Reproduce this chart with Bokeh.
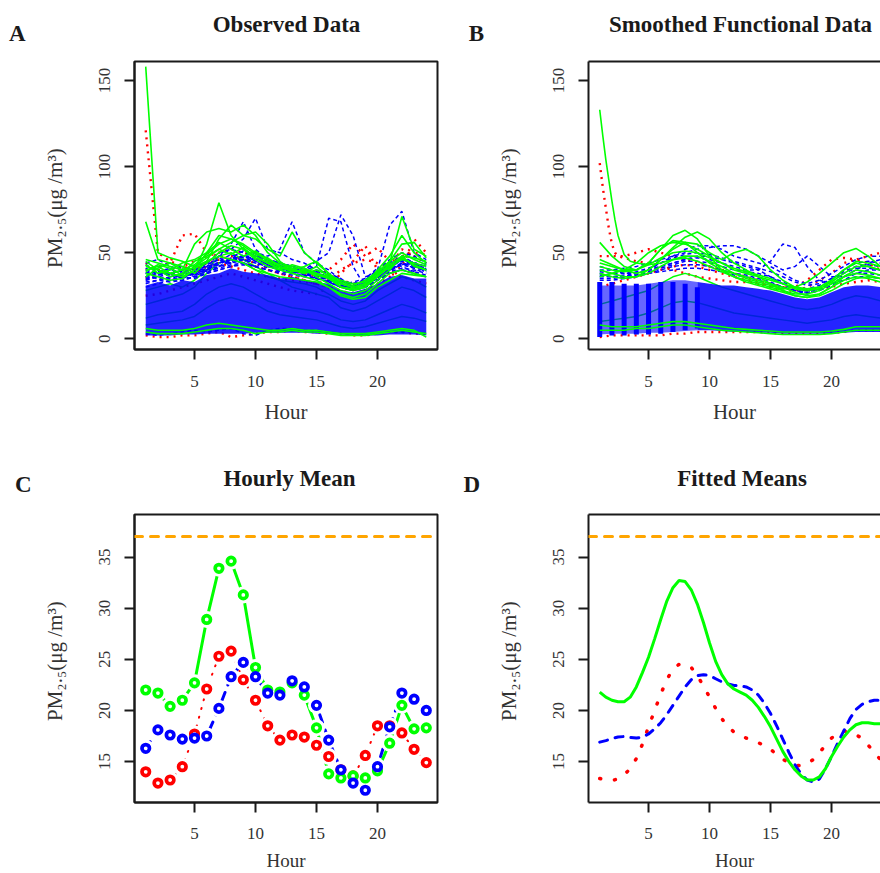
from bokeh.plotting import figure
from bokeh.models import Range1d, FixedTicker, Label, LinearAxis, Span
from bokeh.layouts import column, row
from bokeh.embed import file_html
from bokeh.resources import INLINE

# ---------------- data ----------------
hours = [1, 2, 3, 4, 5, 6, 7, 8, 9, 10, 11, 12, 13, 14, 15, 16, 17, 18, 19, 20, 21, 22, 23, 24]
fine_hours = [1, 1.5, 2, 2.5, 3, 3.5, 4, 4.5, 5, 5.5, 6, 6.5, 7, 7.5, 8, 8.5, 9, 9.5, 10, 10.5,
              11, 11.5, 12, 12.5, 13, 13.5, 14, 14.5, 15, 15.5, 16, 16.5, 17, 17.5, 18, 18.5,
              19, 19.5, 20, 20.5, 21, 21.5, 22, 22.5, 23, 23.5, 24]
spike_hours = [1, 1.25, 1.5, 1.75, 2, 2.25, 2.5, 3, 3.5, 4, 5, 6, 7, 8, 9, 10, 11, 12, 13, 14,
               15, 16, 17, 18, 19, 20, 21, 22, 23, 24]
early_hours = [1, 2, 3, 4, 5, 6, 7, 8, 9]
late_hours = [9, 10, 11, 12, 13, 14, 15, 16, 17, 18, 19, 20, 21, 22, 23, 24]

hour_ticks = [5, 10, 15, 20]
raw_ticks = [0, 50, 100, 150]
mean_ticks = [15, 20, 25, 30, 35]
standard_level = 37

# Panel A: observed hourly curves
obs_core_low = [2, 2, 2, 2.5, 2.5, 3, 3, 3, 3, 3.5, 3.5, 3.5, 3.5, 3.5, 3, 3, 2.5, 2, 2, 2, 2.5, 2.5, 2.5, 2]
obs_core_high = [31, 33, 31, 34, 33, 37, 38, 41, 39, 38, 37, 35, 36, 34, 33, 32, 28, 27, 29, 32, 36, 37, 35, 35]

obs_red = [
    [121, 50, 45, 42, 40, 44, 46, 48, 46, 44, 40, 38, 36, 34, 32, 30, 28, 26, 28, 32, 36, 40, 38, 36],
    [40, 42, 44, 60, 61, 50, 48, 46, 44, 42, 40, 38, 36, 34, 32, 30, 38, 45, 54, 40, 38, 42, 58, 50],
    [35, 38, 40, 42, 45, 48, 50, 52, 50, 48, 45, 42, 40, 38, 36, 40, 46, 55, 48, 53, 45, 48, 50, 49],
    [2, 1, 1, 2, 2, 3, 4, 1, 2, 3, 4, 4, 5, 4, 4, 3, 3, 2, 2, 3, 4, 4, 3, 3],
    [25, 26, 28, 30, 32, 34, 36, 38, 36, 34, 32, 30, 28, 27, 26, 30, 34, 32, 30, 40, 38, 36, 34, 32],
    [44, 40, 38, 36, 38, 42, 44, 42, 40, 38, 36, 35, 34, 33, 32, 34, 40, 44, 46, 44, 42, 52, 48, 44],
]
obs_green_mid = [
    [28, 30, 32, 30, 34, 40, 48, 50, 46, 42, 38, 34, 33, 32, 30, 26, 22, 20, 22, 28, 32, 36, 34, 30],
    [20, 22, 24, 26, 30, 38, 44, 46, 44, 40, 36, 34, 30, 28, 26, 24, 18, 16, 18, 22, 26, 30, 28, 24],
    [12, 14, 15, 16, 20, 26, 30, 32, 30, 26, 22, 20, 18, 17, 16, 14, 11, 10, 11, 14, 17, 20, 18, 15],
    [8, 9, 10, 11, 13, 18, 22, 24, 22, 20, 16, 14, 13, 12, 11, 9, 7, 6, 7, 9, 11, 13, 12, 10],
]
obs_blue = [
    [30, 32, 34, 36, 38, 42, 48, 55, 68, 52, 46, 44, 42, 40, 38, 36, 30, 28, 30, 34, 38, 40, 38, 36],
    [34, 36, 38, 40, 42, 44, 48, 52, 58, 70, 52, 50, 46, 44, 40, 38, 32, 30, 32, 38, 42, 46, 42, 40],
    [36, 35, 34, 36, 38, 40, 44, 46, 48, 50, 48, 52, 68, 50, 44, 40, 34, 30, 32, 36, 40, 44, 42, 40],
    [38, 36, 34, 34, 36, 38, 40, 42, 44, 46, 44, 42, 40, 40, 42, 70, 68, 42, 30, 34, 40, 44, 42, 40],
    [32, 34, 36, 38, 38, 40, 42, 44, 46, 48, 46, 44, 42, 40, 45, 50, 72, 60, 36, 38, 44, 48, 44, 42],
    [36, 38, 38, 40, 40, 42, 44, 46, 48, 46, 44, 42, 40, 40, 38, 36, 32, 30, 34, 40, 66, 74, 50, 46],
    [44, 46, 42, 40, 38, 44, 50, 52, 50, 48, 46, 44, 42, 40, 38, 36, 34, 32, 34, 40, 46, 50, 48, 44],
    [3, 2, 3, 4, 5, 4, 5, 6, 3, 2, 5, 6, 6, 5, 5, 4, 3, 3, 2, 3, 4, 4, 4, 3],
    [40, 38, 37, 36, 35, 38, 42, 45, 46, 44, 42, 40, 39, 38, 36, 34, 31, 30, 32, 37, 41, 43, 41, 40],
    [35, 36, 35, 37, 39, 41, 44, 47, 47, 45, 43, 41, 40, 39, 37, 35, 31, 29, 31, 35, 39, 41, 40, 38],
    [38, 39, 40, 38, 37, 39, 41, 43, 44, 42, 40, 38, 37, 36, 35, 33, 30, 31, 33, 38, 42, 45, 43, 41],
    [33, 34, 33, 34, 36, 38, 40, 42, 43, 42, 40, 39, 38, 37, 35, 33, 30, 28, 30, 34, 38, 40, 39, 37],
    [41, 37, 39, 35, 38, 43, 46, 44, 49, 45, 41, 44, 40, 37, 39, 35, 32, 29, 33, 38, 43, 47, 42, 44],
    [36, 40, 36, 38, 41, 39, 45, 49, 45, 47, 43, 39, 42, 38, 35, 37, 33, 31, 30, 36, 40, 43, 45, 39],
    [43, 39, 41, 42, 37, 41, 43, 47, 51, 48, 44, 42, 38, 41, 37, 34, 31, 33, 35, 41, 39, 44, 41, 43],
    [38, 42, 38, 35, 40, 45, 42, 46, 44, 42, 46, 40, 41, 39, 36, 38, 35, 30, 32, 35, 44, 42, 39, 41],
    [34, 37, 40, 39, 36, 40, 47, 44, 46, 50, 42, 43, 39, 36, 40, 33, 30, 32, 34, 39, 41, 46, 44, 38],
]
obs_green = [
    [158, 50, 47, 45, 42, 45, 48, 46, 44, 40, 38, 36, 35, 34, 33, 30, 25, 23, 24, 30, 34, 38, 37, 36],
    [40, 42, 38, 36, 40, 55, 79, 60, 52, 46, 42, 40, 38, 36, 34, 30, 26, 24, 26, 32, 38, 40, 38, 36],
    [45, 40, 38, 40, 55, 62, 64, 62, 66, 60, 50, 44, 42, 40, 36, 32, 28, 26, 28, 34, 40, 48, 42, 40],
    [68, 46, 44, 42, 38, 45, 58, 66, 60, 58, 52, 48, 62, 50, 44, 38, 30, 28, 30, 36, 44, 71, 52, 48],
    [38, 36, 34, 35, 40, 50, 60, 58, 55, 50, 45, 42, 40, 38, 42, 36, 30, 28, 30, 38, 45, 55, 56, 47],
    [42, 40, 36, 38, 45, 48, 52, 56, 60, 62, 55, 45, 40, 42, 45, 38, 32, 30, 32, 40, 48, 60, 50, 44],
    [46, 44, 42, 40, 41, 44, 50, 54, 52, 48, 44, 41, 40, 39, 38, 35, 30, 29, 31, 36, 42, 46, 44, 42],
    [39, 43, 41, 37, 42, 47, 52, 49, 53, 47, 44, 40, 43, 41, 38, 36, 33, 31, 34, 39, 45, 50, 46, 43],
    [43, 38, 40, 44, 46, 50, 56, 52, 48, 51, 46, 43, 41, 38, 40, 37, 34, 32, 33, 37, 43, 48, 47, 45],
    [36, 41, 44, 40, 43, 49, 55, 58, 54, 49, 47, 42, 39, 40, 37, 35, 32, 30, 32, 38, 41, 47, 43, 40],
    [4, 3, 3, 3, 4, 5, 6, 6, 5, 3, 4, 4, 5, 4, 4, 3, 2, 2, 2, 3, 4, 5, 4, 3],
    [6, 5, 5, 5, 6, 8, 9, 8, 7, 6, 5, 5, 6, 5, 5, 4, 3, 3, 3, 4, 5, 6, 5, 1],
]

# Panel B: smoothed functional curves
early_low = [2.5, 3, 3, 3, 3.5, 3.5, 4, 4.5, 5]
early_high = [31, 31, 31, 31, 32, 33, 34, 34, 33]
late_low = [5, 5, 4.5, 4, 4, 3.5, 3.5, 3, 3, 3, 3, 3, 3.5, 4, 4, 4]
late_high = [33, 32, 31, 31, 30, 29, 28, 26, 24, 23, 24, 27, 30, 31, 31, 30]
stripe_low = [1, 2, 2, 2.5, 2.5, 3, 4, 5, 6]
stripe_high = [33, 33, 32, 32, 32, 33, 33, 32, 30]

smooth_green_spike = [133, 118, 104, 92, 80, 69, 60, 49, 45, 44, 43, 44, 46, 47, 45, 42, 39, 36, 33, 31,
                      29, 27, 25, 24, 25, 28, 32, 35, 36, 35]
smooth_red_spike = [102, 88, 76, 64, 55, 50, 48, 47, 46, 45, 44, 42, 40, 38, 36, 35, 34, 33, 33, 32,
                    31, 30, 29, 28, 29, 30, 32, 33, 34, 33]
smooth_red = [
    [48, 48, 48, 50, 52, 50, 48, 46, 44, 42, 40, 38, 36, 34, 32, 30, 30, 34, 40, 46, 47, 46, 48, 50],
    [1, 2, 2, 2, 2, 2, 3, 3, 4, 4, 4, 4, 4, 4, 3.5, 3, 3, 3, 3, 3.5, 4, 5, 5, 5],
    [30, 32, 34, 36, 38, 40, 42, 43, 42, 40, 38, 36, 34, 32, 30, 28, 28, 30, 34, 38, 44, 46, 44, 40],
]
smooth_green_mid = [
    [20, 22, 24, 26, 28, 32, 36, 38, 36, 33, 30, 28, 26, 24, 22, 20, 18, 17, 18, 20, 23, 25, 24, 22],
    [10, 11, 12, 13, 15, 18, 21, 22, 21, 19, 17, 15, 14, 13, 12, 11, 10, 9, 10, 11, 13, 14, 13, 12],
]
smooth_blue = [
    [36, 36, 37, 38, 40, 42, 44, 46, 47, 46, 44, 42, 40, 40, 45, 55, 53, 42, 34, 32, 34, 38, 40, 40],
    [40, 40, 41, 42, 44, 46, 48, 50, 52, 53, 54, 54, 52, 48, 44, 40, 42, 48, 42, 36, 36, 40, 44, 46],
    [38, 36, 36, 38, 40, 44, 48, 52, 54, 54, 52, 48, 46, 44, 42, 38, 34, 32, 34, 38, 42, 46, 48, 48],
    [42, 40, 38, 38, 40, 42, 44, 46, 48, 48, 46, 44, 42, 40, 36, 32, 28, 26, 28, 34, 40, 44, 45, 44],
    [34, 34, 35, 36, 38, 40, 42, 43, 43, 42, 40, 38, 37, 35, 33, 30, 28, 27, 29, 32, 36, 38, 38, 37],
    [37, 36, 36, 37, 39, 41, 43, 45, 45, 44, 42, 40, 39, 38, 36, 33, 30, 29, 31, 35, 38, 41, 41, 40],
    [39, 38, 38, 39, 41, 44, 47, 49, 50, 49, 47, 45, 43, 41, 39, 36, 33, 31, 32, 35, 39, 42, 43, 42],
    [35, 35, 36, 37, 38, 39, 40, 41, 41, 40, 39, 37, 36, 34, 32, 30, 28, 27, 28, 31, 34, 36, 36, 35],
]
smooth_green = [
    [44, 42, 40, 40, 44, 52, 60, 63, 58, 48, 40, 36, 34, 32, 30, 28, 25, 24, 26, 30, 34, 36, 35, 33],
    [46, 43, 40, 38, 40, 46, 53, 59, 62, 58, 50, 44, 40, 36, 32, 28, 26, 26, 28, 32, 36, 38, 37, 35],
    [56, 48, 42, 40, 44, 52, 57, 56, 50, 44, 40, 38, 36, 34, 32, 30, 27, 25, 26, 30, 36, 40, 39, 37],
    [40, 38, 36, 36, 40, 46, 52, 56, 55, 50, 46, 50, 52, 48, 40, 34, 30, 28, 30, 34, 40, 44, 42, 40],
    [38, 36, 35, 36, 38, 42, 46, 48, 48, 45, 42, 38, 35, 33, 31, 29, 30, 33, 38, 44, 50, 52.5, 48, 42],
    [36, 38, 40, 44, 50, 54, 56, 55, 52, 48, 44, 40, 38, 36, 34, 32, 30, 29, 30, 34, 40, 45, 44, 42],
    [42, 40, 39, 40, 43, 47, 50, 51, 50, 47, 44, 41, 39, 37, 35, 32, 29, 28, 29, 33, 38, 42, 42, 40],
    [5, 5, 5, 6, 6, 7, 8, 8, 7, 6, 5, 4.5, 4, 3.5, 3, 2.5, 2.5, 2.5, 2.5, 3, 4, 5, 5, 5],
    [8, 7, 7, 7, 8, 9, 10, 10, 9, 8, 7, 6, 5.5, 5, 4.5, 4, 4, 4, 4, 4.5, 5.5, 7, 7, 7],
]

# Panel C: hourly means
mean_red = [14.0, 12.9, 13.2, 14.5, 17.7, 22.1, 25.3, 25.8, 23.0, 21.0, 18.5, 17.1, 17.6, 17.4, 16.6, 15.5,
            14.2, 13.6, 15.6, 18.5, 18.5, 17.8, 16.2, 14.9]
mean_green = [22.0, 21.7, 20.4, 21.0, 22.7, 28.9, 33.9, 34.6, 31.3, 24.2, 22.0, 21.8, 22.7, 21.5, 18.3, 13.8,
              13.4, 13.6, 13.4, 14.1, 16.8, 20.5, 18.2, 18.3]
mean_blue = [16.3, 18.1, 17.6, 17.2, 17.3, 17.5, 20.2, 23.3, 24.7, 23.3, 21.7, 21.5, 22.9, 22.3, 20.5, 17.1,
             14.2, 12.9, 12.2, 14.5, 18.4, 21.7, 21.1, 20.0]

# Panel D: fitted means (smooth)
fit_green = [21.8, 21.3, 21.0, 20.85, 20.85, 21.3, 22.3, 23.7, 25.2, 27.0, 28.9, 30.7, 32.0, 32.7, 32.6, 31.8,
             30.4, 28.6, 26.6, 24.8, 23.5, 22.6, 22.1, 21.8, 21.5, 21.0, 20.3, 19.4, 18.4, 17.2, 16.0, 15.0,
             14.2, 13.6, 13.2, 13.2, 13.5, 14.3, 15.5, 16.5, 17.4, 18.1, 18.6, 18.8, 18.8, 18.7, 18.7]
fit_blue = [16.9, 17.05, 17.25, 17.4, 17.45, 17.35, 17.3, 17.4, 17.7, 18.2, 18.8, 19.6, 20.5, 21.4, 22.3, 23.0,
            23.4, 23.5, 23.4, 23.1, 22.8, 22.6, 22.45, 22.4, 22.3, 22.0, 21.5, 20.7, 19.7, 18.5, 17.2, 15.9,
            14.7, 13.8, 13.2, 13.0, 13.3, 14.3, 15.5, 16.8, 18.0, 19.2, 20.1, 20.6, 20.85, 21.0, 21.0]
fit_red = [13.35, 13.2, 13.15, 13.3, 13.7, 14.3, 15.3, 16.7, 18.4, 20.0, 21.6, 23.0, 24.1, 24.5, 24.5, 24.2,
           23.4, 22.4, 21.3, 20.2, 19.2, 18.4, 17.9, 17.6, 17.3, 17.1, 16.85, 16.55, 16.2, 15.7, 15.25, 14.85,
           14.65, 14.6, 14.8, 15.2, 15.85, 16.6, 17.3, 17.8, 18.0, 17.9, 17.6, 17.3, 16.6, 15.9, 15.2]

# headings: (text, x, y) in header pixel space
row1_heads = [("A", 16.7, 22.5), ("Observed Data", 286, 31), ("B", 476, 21.7),
              ("Smoothed Functional Data", 740, 31.5)]
row2_heads = [("C", 22.8, 23.8), ("Hourly Mean", 289, 30), ("D", 471.3, 23.8), ("Fitted Means", 741.5, 30)]

# ---------------- styling ----------------
RED = "#FF0000"
GREEN = "#00FF00"
BLUE = "#0000FF"
ORANGE = "#FFA500"
INK = "#1a1a1a"
FONT = "Liberation Serif"
YLAB = "PM\u2082.\u2085(\u03bcg  /m\u00b3)"


def make_header(height, heads):
    h = figure(width=880, height=height, output_backend="svg", toolbar_location=None,
               x_range=Range1d(0, 880), y_range=Range1d(0, height), min_border=0,
               x_axis_location=None, y_axis_location=None, outline_line_color=None)
    h.grid.visible = False
    for text, x, y in heads:
        h.add_layout(Label(x=x, y=y, text=text, text_font=FONT, text_font_size="23px",
                           text_font_style="bold", text_color=INK, text_align="center",
                           text_baseline="middle"))
    return h


def make_panel(width, height, bottom, right, xr, yr, yticks, cropped,
               tick_standoff=16, label_standoff=10, xlabel_size="21px"):
    p = figure(width=width, height=height, output_backend="svg", toolbar_location=None,
               x_range=Range1d(*xr), y_range=Range1d(*yr),
               min_border_left=134, min_border_right=right, min_border_top=6,
               min_border_bottom=bottom, background_fill_color="white", border_fill_color="white")
    p.grid.visible = False
    xax = p.below[0]
    yax = p.left[0]
    for ax, ticks in ((xax, hour_ticks), (yax, yticks)):
        ax.ticker = FixedTicker(ticks=ticks)
        ax.axis_line_color = INK
        ax.axis_line_width = 2
        ax.major_tick_line_color = INK
        ax.major_tick_line_width = 2
        ax.major_tick_out = 10
        ax.major_tick_in = 0
        ax.minor_tick_line_color = None
        ax.major_label_text_font = FONT
        ax.major_label_text_font_size = "17px"
        ax.major_label_text_color = "#333333"
        ax.axis_label_text_font = FONT
        ax.axis_label_text_font_size = "21px"
        ax.axis_label_text_font_style = "normal"
        ax.axis_label_text_color = "#333333"
    xax.axis_label = "Hour"
    xax.axis_label_text_font_size = xlabel_size
    xax.major_label_standoff = tick_standoff
    xax.axis_label_standoff = label_standoff
    yax.axis_label = YLAB
    yax.major_label_orientation = "vertical"
    yax.major_label_standoff = 14
    yax.axis_label_standoff = 30
    if cropped:
        p.outline_line_color = None
        top_axis = LinearAxis(ticker=FixedTicker(ticks=[]), major_label_text_font_size="0px",
                              major_tick_line_color=None, minor_tick_line_color=None,
                              major_tick_out=0, major_tick_in=0, major_label_standoff=0,
                              axis_label_standoff=0, axis_line_color=INK, axis_line_width=2)
        p.add_layout(top_axis, "above")
    else:
        p.outline_line_color = INK
        p.outline_line_width = 2
        p.outline_line_alpha = 1.0
    return p


X_FULL = (0.08, 24.92)
X_CROP = (0.08, 24.01)
Y_RAW = (-6.2, 161.0)
Y_MEAN = (11.0, 39.16)

# ----- Panel A -----
pA = make_panel(454, 399, 105, 17, X_FULL, Y_RAW, raw_ticks, False)
pA.multi_line(xs=[hours] * len(obs_red), ys=obs_red, line_color=RED, line_width=2.4, line_dash="2 5")
pA.multi_line(xs=[hours] * len(obs_green_mid), ys=obs_green_mid, line_color=GREEN, line_width=1.5)
pA.varea(x=hours, y1=obs_core_low, y2=obs_core_high, fill_color=BLUE, fill_alpha=0.86)
pA.multi_line(xs=[hours] * len(obs_blue), ys=obs_blue, line_color=BLUE, line_width=1.5, line_dash="4 3")
pA.multi_line(xs=[hours] * len(obs_green), ys=obs_green, line_color=GREEN, line_width=1.6)

# ----- Panel B -----
pB = make_panel(426, 399, 105, 0, X_CROP, Y_RAW, raw_ticks, True)
pB.multi_line(xs=[hours] * len(smooth_red), ys=smooth_red, line_color=RED, line_width=2.4, line_dash="2 5")
pB.line(spike_hours, smooth_red_spike, line_color=RED, line_width=2.4, line_dash="2 5")
pB.multi_line(xs=[hours] * len(smooth_green_mid), ys=smooth_green_mid, line_color=GREEN, line_width=1.5)
pB.varea(x=early_hours, y1=early_low, y2=early_high, fill_color=BLUE, fill_alpha=0.6)
pB.varea(x=late_hours, y1=late_low, y2=late_high, fill_color=BLUE, fill_alpha=0.86)
pB.segment(x0=early_hours, y0=stripe_low, x1=early_hours, y1=stripe_high, line_color=BLUE, line_width=5)
pB.multi_line(xs=[hours] * len(smooth_blue), ys=smooth_blue, line_color=BLUE, line_width=1.5, line_dash="4 3")
pB.multi_line(xs=[hours] * len(smooth_green), ys=smooth_green, line_color=GREEN, line_width=1.6)
pB.line(spike_hours, smooth_green_spike, line_color=GREEN, line_width=1.6)

# ----- Panel C -----
pC = make_panel(454, 365, 70, 17, X_FULL, Y_MEAN, mean_ticks, False,
                tick_standoff=15, label_standoff=8, xlabel_size="19px")
pC.add_layout(Span(location=standard_level, dimension="width", line_color=ORANGE, line_width=3,
                   line_dash="8 8", line_cap="round"))
pC.line(hours, mean_red, line_color=RED, line_width=2, line_dash="1 8", line_cap="round")
pC.line(hours, mean_green, line_color=GREEN, line_width=3)
pC.line(hours, mean_blue, line_color=BLUE, line_width=3, line_dash="8 8", line_cap="round")
for series in (mean_red, mean_green, mean_blue):
    pC.scatter(hours, series, size=17, fill_color="white", line_color=None)
for series, col in ((mean_red, RED), (mean_green, GREEN), (mean_blue, BLUE)):
    pC.scatter(hours, series, size=7.5, fill_color="white", line_color=col, line_width=3.7)

# ----- Panel D -----
pD = make_panel(426, 365, 70, 0, X_CROP, Y_MEAN, mean_ticks, True,
                tick_standoff=15, label_standoff=8, xlabel_size="19px")
pD.add_layout(Span(location=standard_level, dimension="width", line_color=ORANGE, line_width=3,
                   line_dash="8 8", line_cap="round"))
pD.line(fine_hours, fit_red, line_color=RED, line_width=3.5, line_dash="1 14", line_cap="round")
pD.line(fine_hours, fit_blue, line_color=BLUE, line_width=3, line_dash="8 8", line_cap="round")
pD.line(fine_hours, fit_green, line_color=GREEN, line_width=3)

layout = column(make_header(55, row1_heads), row(pA, pB), make_header(54, row2_heads), row(pC, pD))
open("out.html", "w").write(file_html(layout, INLINE))
